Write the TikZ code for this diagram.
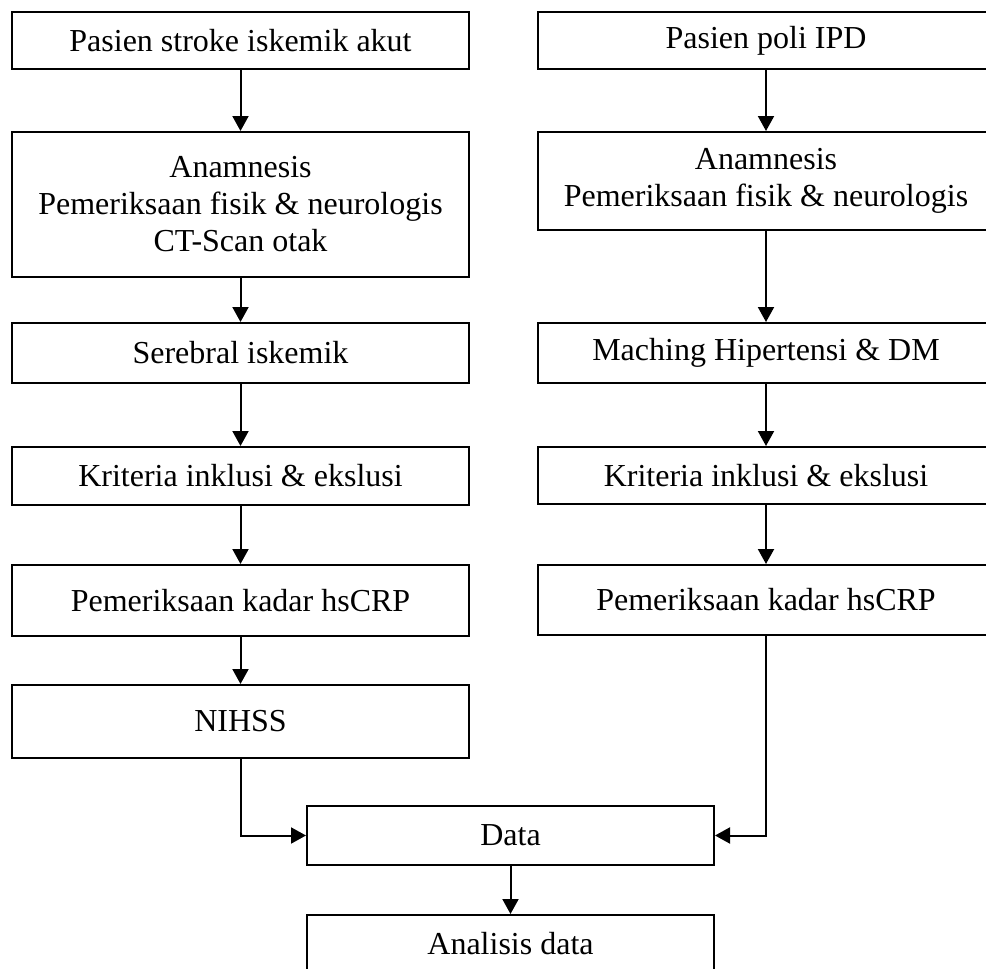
\documentclass[tikz,border=0pt]{standalone}
\usepackage{fontspec}
\setmainfont{Liberation Serif}
\usepackage{tikz}
\usetikzlibrary{arrows.meta}

\tikzset{
  box/.style={draw, line width=2pt, rectangle, align=center, inner sep=0pt,
    font=\fontsize{32}{37}\selectfont},
  leftbox/.style={box, minimum width=457pt},
  rightbox/.style={box, minimum width=456pt},
  flow/.style={line width=2pt, ->}
}

\begin{document}
\begin{tikzpicture}[x=1pt, y=-1pt, >={Triangle[length=15pt,width=16pt]}]
  \clip (0,0) rectangle (986,969);
  % left column
  \node[leftbox, minimum height=57pt]  (L1) at (240.5,40.5) {Pasien stroke iskemik akut};
  \node[leftbox, minimum height=145pt] (L2) at (240.5,204.5) {Anamnesis\\ Pemeriksaan fisik \& neurologis\\ CT-Scan otak};
  \node[leftbox, minimum height=60pt]  (L3) at (240.5,353) {Serebral iskemik};
  \node[leftbox, minimum height=58pt]  (L4) at (240.5,476) {Kriteria inklusi \& ekslusi};
  \node[leftbox, minimum height=71pt]  (L5) at (240.5,600.5) {Pemeriksaan kadar hsCRP};
  \node[leftbox, minimum height=73pt]  (L6) at (240.5,721.5) {NIHSS};
  % right column
  \node[rightbox, minimum height=57pt] (R1) at (766,40.5) {Pasien poli IPD};
  \node[rightbox, minimum height=98pt] (R2) at (766,181) {Anamnesis\\ Pemeriksaan fisik \& neurologis};
  \node[rightbox, minimum height=60pt] (R3) at (766,353) {Maching Hipertensi \& DM};
  \node[rightbox, minimum height=57pt] (R4) at (766,475.5) {Kriteria inklusi \& ekslusi};
  \node[rightbox, minimum height=70pt] (R5) at (766,600) {Pemeriksaan kadar hsCRP};
  % bottom
  \node[box, minimum width=407pt, minimum height=59pt] (data) at (510.5,835.5) {Data};
  \node[box, minimum width=407pt, minimum height=58pt] (anal) at (510.5,944) {Analisis data};

  \draw[flow] (L1) -- (L2);
  \draw[flow] (L2) -- (L3);
  \draw[flow] (L3) -- (L4);
  \draw[flow] (L4) -- (L5);
  \draw[flow] (L5) -- (L6);
  \draw[flow] (R1) -- (R2);
  \draw[flow] (R2) -- (R3);
  \draw[flow] (R3) -- (R4);
  \draw[flow] (R4) -- (R5);
  \draw[flow] (L6.south) |- (data.west);
  \draw[flow] (R5.south) |- (data.east);
  \draw[flow] (data) -- (anal);
\end{tikzpicture}
\end{document}
